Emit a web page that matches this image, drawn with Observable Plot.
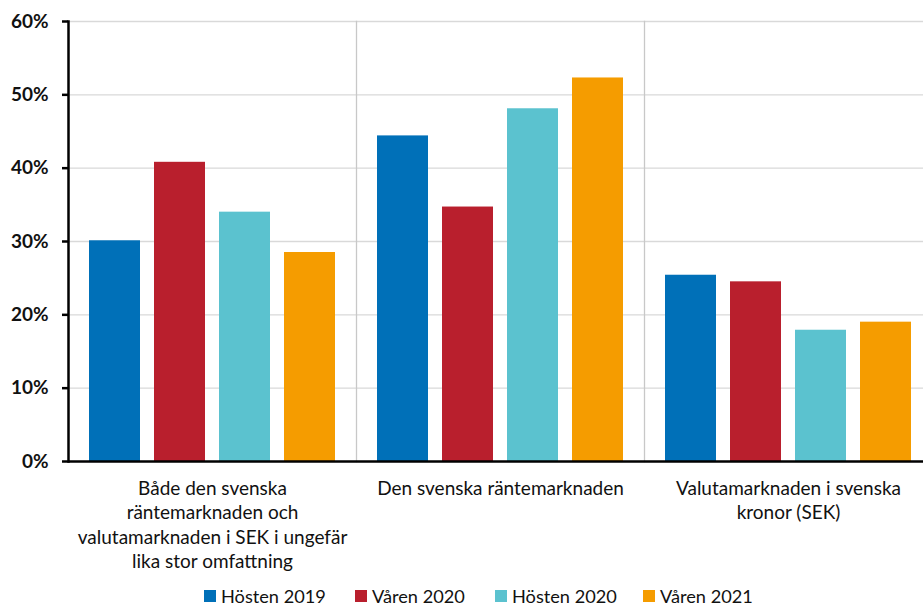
<!DOCTYPE html>
<html><head><meta charset="utf-8">
<script src="https://cdn.jsdelivr.net/npm/d3@7"></script>
<script src="https://cdn.jsdelivr.net/npm/@observablehq/plot@0.6"></script>
<style>
html,body{margin:0;padding:0;background:#fff;overflow:hidden;width:923px;height:608px;}
#chart svg{max-width:none !important;display:block;}
#legend{position:relative;height:30px;font-family:Lato,sans-serif;font-size:18.2px;color:#111;}
#legend .it{position:absolute;top:7px;white-space:nowrap;display:flex;align-items:center;}
#legend span.sw{display:inline-block;width:12px;height:12px;margin-right:5px;}
</style></head>
<body><div id="chart"></div><div id="legend"></div>
<script>
const categories = ["Både den svenska räntemarknaden och valutamarknaden i SEK i ungefär lika stor omfattning", "Den svenska räntemarknaden", "Valutamarknaden i svenska kronor (SEK)"];
const categoryLabels = ["Både den svenska\nräntemarknaden och\nvalutamarknaden i SEK i ungefär\nlika stor omfattning", "Den svenska räntemarknaden", "Valutamarknaden i svenska\nkronor (SEK)"];
const series = ["Hösten 2019", "Våren 2020", "Hösten 2020", "Våren 2021"];
const colors = ["#0070b8", "#b91f2d", "#5bc2cf", "#f59c00"];
const hosten2019 = [30.1, 44.4, 25.4];
const varen2020 = [40.8, 34.7, 24.5];
const hosten2020 = [34.0, 48.1, 17.9];
const varen2021 = [28.5, 52.3, 19.0];
const yTicks = [0, 10, 20, 30, 40, 50, 60];

const valuesBySeries = [hosten2019, varen2020, hosten2020, varen2021];
const data = [];
categories.forEach((c, i) => series.forEach((s, j) => data.push({cat: c, s, v: valuesBySeries[j][i]})));
const labelMap = new Map(categories.map((c, i) => [c, categoryLabels[i]]));

const chart = Plot.plot({
  width: 935, height: 578,
  marginLeft: 67, marginRight: 2, marginTop: 21, marginBottom: 117,
  style: {fontFamily: "Lato, sans-serif", color: "#111", background: "#fff", maxWidth: "none"},
  fx: {domain: categories, padding: 0, label: null},
  x: {domain: series, paddingInner: 0.21, paddingOuter: 0.3, axis: null},
  y: {domain: [0, 60], label: null},
  color: {domain: series, range: colors},
  marks: [
    Plot.gridY(yTicks.slice(1), {stroke: "#d9d9d9", strokeOpacity: 1, strokeWidth: 1.3}),
    Plot.frame({anchor: "right", stroke: "#c8c8c8", strokeWidth: 1.3}),
    Plot.barY(data, {fx: "cat", x: "s", y: "v", fill: "s"}),
    Plot.ruleY([0], {stroke: "#000", strokeWidth: 2.5}),
    Plot.frame({anchor: "left", facetAnchor: "left", stroke: "#000", strokeWidth: 2.5}),
    Plot.axisY({ticks: yTicks, tickFormat: d => d + "%", tickSize: 6, tickPadding: 14, fontSize: 19, fontWeight: "bold", stroke: "#000", strokeWidth: 2.5, label: null}),
    Plot.axisFx({anchor: "bottom", tickSize: 0, tickPadding: 16, fontSize: 19, lineHeight: 1.29, tickFormat: d => labelMap.get(d), label: null})
  ]
});
document.getElementById("chart").appendChild(chart);

const lg = document.getElementById("legend");
const legendX = [204, 355, 495, 643];
series.forEach((s, i) => {
  const item = document.createElement("div");
  item.className = "it";
  item.style.left = legendX[i] + "px";
  item.innerHTML = `<span class="sw" style="background:${colors[i]}"></span>${s}`;
  lg.appendChild(item);
});
</script></body></html>
